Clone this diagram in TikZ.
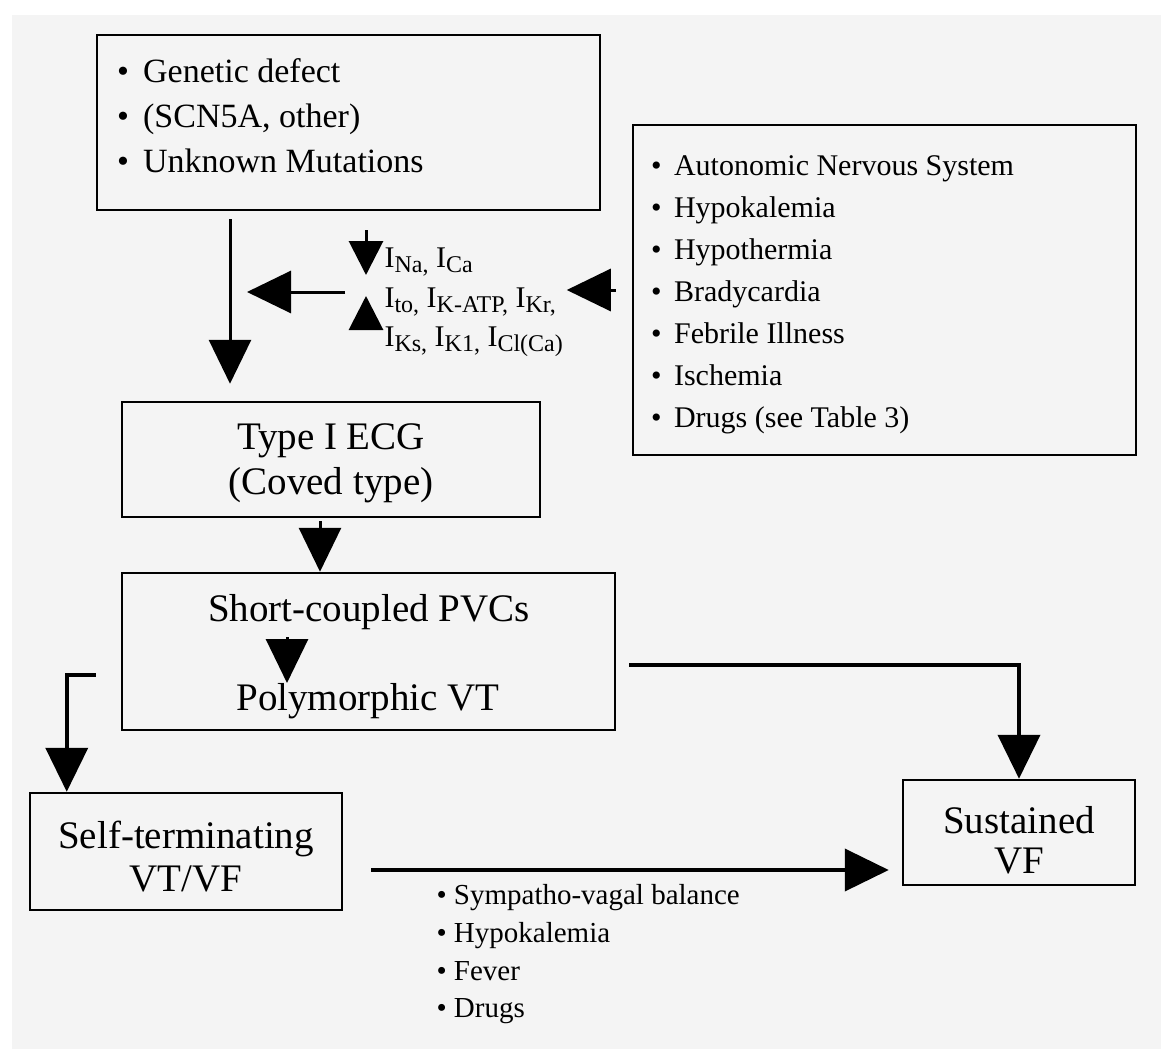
\documentclass[tikz,border=0pt]{standalone}
\usepackage{fontspec}
\setmainfont{Liberation Serif}
\usetikzlibrary{arrows.meta, positioning}

\newcommand{\cur}[1]{I\raisebox{-0.35ex}{\fontsize{24}{24}\selectfont #1}}
\newcommand{\bul}{\textbullet\hspace{0.42em}}

\tikzset{
  box/.style={draw, line width=2.5pt, inner sep=0pt},
  bullets/.style={align=flush left, anchor=west},
  flow/.style={line width=3pt, -{Triangle[width=42pt,length=44pt]}},
  small flow/.style={line width=3pt, -{Triangle[width=34pt,length=34pt]}},
}

\begin{document}
\begin{tikzpicture}[x=1pt, y=-1pt]
\useasboundingbox (0,0) rectangle (1161,1049);
\fill[gray!9] (12,15) rectangle (1161,1049);

\node[box, minimum width=503pt, minimum height=175pt, text width=463pt, align=flush left, font=\fontsize{34}{45}\selectfont] (genetic) at (348.5,122.5) {\bul Genetic defect\\ \bul (SCN5A, other)\\ \bul Unknown Mutations\strut};
\node[box, minimum width=503pt, minimum height=330pt, text width=467pt, align=flush left, font=\fontsize{30}{42}\selectfont] (triggers) at (884.5,290) {\strut\bul Autonomic Nervous System\\ \bul Hypokalemia\\ \bul Hypothermia\\ \bul Bradycardia\\ \bul Febrile Illness\\ \bul Ischemia\\ \bul Drugs (see Table 3)};
\node[bullets, font=\fontsize{30}{39.5}\selectfont] (currents) at (381,302.5) {\cur{Na,} \cur{Ca}\\ \cur{to,} \cur{K-ATP,} \cur{Kr,}\\ \cur{Ks,} \cur{K1,} \cur{Cl(Ca)}};
\coordinate (hub) at (366,292);
\node[box, minimum width=418pt, minimum height=115pt, align=center, font=\fontsize{39}{45}\selectfont] (ecg) at (331,459.5) {\rule{0pt}{34pt}Type I ECG\\(Coved type)};
\node[box, minimum width=493pt, minimum height=157pt] (pvcbox) at (368.5,651.5) {};
\node[font=\fontsize{39}{45}\selectfont] (pvc) at (369,612) {Short-coupled PVCs};
\node[font=\fontsize{39}{45}\selectfont] (poly) at (368,701) {Polymorphic VT};
\node[box, minimum width=312pt, minimum height=117pt, align=center, font=\fontsize{39}{43}\selectfont] (selfterm) at (186,851.5) {\rule{0pt}{37pt}Self-terminating\\VT/VF};
\node[box, minimum width=232pt, minimum height=105pt, align=center, font=\fontsize{39}{40}\selectfont] (sustained) at (1019,832.5) {\rule{0pt}{43pt}Sustained\\VF};
\node[bullets, font=\fontsize{29}{37.7}\selectfont] (modulators) at (433,954.5) {\textbullet\ Sympatho-vagal balance\\ \textbullet\ Hypokalemia\\ \textbullet\ Fever\\ \textbullet\ Drugs};

\draw[small flow] ([yshift=62pt]hub) -- ([yshift=17pt]hub);
\draw[small flow] ([yshift=-36pt]hub) -- ([yshift=-4pt]hub);
\draw[flow] ([xshift=-21pt]hub) -- ([xshift=-119pt]hub);
\draw[flow] ([xshift=-16pt]triggers.west) -- ([xshift=-65pt]triggers.west);
\draw[flow] ([xshift=-118.5pt,yshift=-8pt]genetic.south) -- ([xshift=-101pt,yshift=17pt]ecg.north);
\draw[flow] ([xshift=-11pt,yshift=-3pt]ecg.south) -- ([xshift=-48.5pt]pvcbox.north);
\draw[flow] ([xshift=-82pt,yshift=-25pt]pvc.center) -- ([xshift=-81pt,yshift=18pt]poly.center);
\draw[flow, line width=4pt] ([xshift=-25pt,yshift=-23.5pt]pvcbox.west) -| ([xshift=38pt]selfterm.north west);
\draw[flow, line width=4pt] ([xshift=13pt,yshift=-13.5pt]pvcbox.east) -| (sustained.north);
\draw[flow, line width=4pt] ([xshift=28pt,yshift=-18.5pt]selfterm.east) -- ([xshift=-13pt,yshift=-37.5pt]sustained.west);
\end{tikzpicture}
\end{document}
